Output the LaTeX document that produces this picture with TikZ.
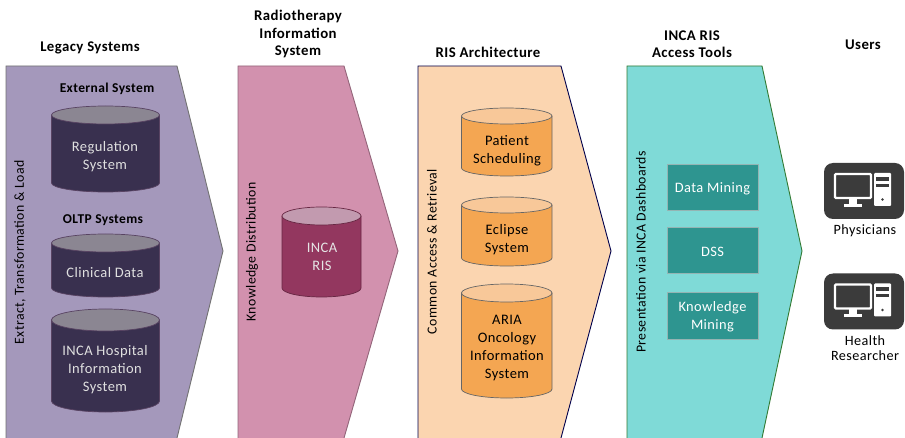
\documentclass[tikz,border=0pt]{standalone}
\usepackage{fontspec}
\setmainfont[LetterSpace=3]{Carlito}
\definecolor{pur}{HTML}{A498BB}
\definecolor{pink}{HTML}{D291AE}
\definecolor{ora}{HTML}{FBD5B0}
\definecolor{teal1}{HTML}{7FDAD7}
\definecolor{cyldark}{HTML}{39304F}
\definecolor{cyldarktop}{HTML}{8B8692}
\definecolor{cylred}{HTML}{93375F}
\definecolor{cylredtop}{HTML}{C29AAF}
\definecolor{cylora}{HTML}{F4A652}
\definecolor{cylloratop}{HTML}{F8C899}
\definecolor{boxteal}{HTML}{2E9590}
\definecolor{icon}{HTML}{3B3B3B}
\tikzset{
 x=1pt,y=-1pt,
 panel/.style={line width=0.9pt},
 head/.style={font=\fontsize{14.8}{17.5}\selectfont\bfseries,align=center,text=black,inner sep=0pt},
 sub/.style={font=\fontsize{13.5}{15}\selectfont\bfseries,align=center,inner sep=0pt},
 side/.style={font=\fontsize{13.8}{16}\selectfont,rotate=90,inner sep=0pt},
 body/.style={font=\fontsize{14.5}{18}\selectfont,align=center,inner sep=0pt},
 tealbox/.style={draw=teal1!60!black!60!white,fill=boxteal,line width=0.6pt,inner sep=0pt},
 tealtext/.style={text=white,font=\fontsize{14.4}{18}\selectfont,align=center,inner sep=0pt},
 userlabel/.style={font=\fontsize{14.2}{15.5}\selectfont,align=center,inner sep=0pt},
}
% #1 x-left, #2 x-right, #3 y-top, #4 y-bottom, #5 ry, #6 body, #7 top, #8 line, #9 name
\newcommand{\cylshape}[9]{%
 \pgfmathsetmacro{\cx}{(#1+#2)/2}\pgfmathsetmacro{\rx}{(#2-#1)/2}
 \draw[fill=#6,draw=#8,line width=0.7pt] (#1,#3+#5) -- (#1,#4-#5) arc[start angle=180,end angle=360,x radius=\rx pt,y radius=#5 pt] -- (#2,#3+#5);
 \draw[fill=#7,draw=#8,line width=0.7pt] (\cx,#3+#5) ellipse[x radius=\rx pt,y radius=#5 pt];
 \coordinate (#9) at (\cx,{(#3+#4)/2+#5/2});
}
\newcommand{\usericon}[3]{% x,y offset, name
 \begin{scope}[shift={(#1,#2)}]
 \fill[icon,rounded corners=9pt] (0,0) rectangle (80,56);
 \draw[white,line width=2.2pt,rounded corners=1pt] (11,11) rectangle (47,35);
 \fill[white] (25,36) rectangle (33,41);
 \fill[white] (20,41) rectangle (38,44);
 \fill[white,rounded corners=1pt] (50,10) rectangle (67,43);
 \fill[icon] (52,14) rectangle (65,18);
 \fill[icon] (52,21) rectangle (65,24);
 \fill[icon] (58.5,36.5) circle[radius=1.4pt];
 \coordinate (#3) at (40,28);
 \end{scope}
}
\begin{document}
\begin{tikzpicture}
\useasboundingbox (0,0) rectangle (905,438);
\fill[white] (0,0) rectangle (905,438);
% panels (open at bottom of picture)
\draw[panel,fill=pur,draw=black!55] (6,438) -- (6,66) -- (177,66) -- (223,251) -- (177,438);
\draw[panel,fill=pink,draw=pink!70!black] (238,438) -- (238,66) -- (344,66) -- (398,251) -- (344,438);
\draw[panel,fill=ora,draw=blue!30!black] (418,438) -- (418,66) -- (561,66) -- (611,251) -- (561,438);
\draw[panel,fill=teal1,draw=green!35!black!80] (627,438) -- (627,66) -- (762,66) -- (802,251) -- (762,438);
% headings
\node[head] (h1) at (90,47.5) {Legacy Systems};
\node[head] (h2) at (298,34) {Radiotherapy\\Information\\System};
\node[head] (h3) at (488,52.5) {RIS Architecture};
\node[head] (h4) at (692,44) {INCA RIS\\Access Tools};
\node[head] (h5) at (863,44.5) {Users};
% sub headings
\node[sub] (s1) at (107,89) {External System};
\node[sub] (s2) at (103,220) {OLTP Systems};
% side labels
\node[side] (t1) at (20,252.5) {Extract, Transformation \& Load};
\node[side] (t2) at (252,252) {Knowledge Distribution};
\node[side] (t3) at (432,251.5) {Common Access \& Retrieval};
\node[side] (t4) at (641,252) {Presentation via INCA Dashboards};
% cylinders
\cylshape{51.5}{159.5}{106}{192}{9}{cyldark}{cyldarktop}{cyldark!80!pink}{c1}
\node[body,text=white!88!black] (n1) at (105,157) {Regulation\\System};
\cylshape{51.5}{159.5}{234}{297}{9}{cyldark}{cyldarktop}{cyldark!80!pink}{c2}
\node[body,text=white!88!black] (n2) at (105,273) {Clinical Data};
\cylshape{51.5}{159.5}{309}{412}{11}{cyldark}{cyldarktop}{cyldark!80!pink}{c3}
\node[body,text=white!88!black] (n3) at (105,370) {INCA Hospital\\Information\\System};
\cylshape{282}{361}{207}{297}{9}{cylred}{cylredtop}{cylred!70!black}{c4}
\node[body,text=white!90!black] (n4) at (322,257) {INCA\\RIS};
\cylshape{461.5}{552}{108}{176}{8}{cylora}{cylloratop}{black!60}{c5}
\node[body] (n5) at (507,150.5) {Patient\\Scheduling};
\cylshape{461.5}{552}{197}{266}{8}{cylora}{cylloratop}{black!60}{c6}
\node[body] (n6) at (507,240) {Eclipse\\System};
\cylshape{461.5}{552}{284}{398}{9}{cylora}{cylloratop}{black!60}{c7}
\node[body] (n7) at (507,348) {ARIA\\Oncology\\Information\\System};
% tools
\node[tealbox,minimum width=91pt,minimum height=46pt] (b1) at (712.5,187) {};
\node[tealtext] (b1t) at ([yshift=-1.5pt]b1.center) {Data Mining};
\node[tealbox,minimum width=91pt,minimum height=46pt] (b2) at (712.5,250) {};
\node[tealtext] (b2t) at ([yshift=-1.5pt]b2.center) {DSS};
\node[tealbox,minimum width=91pt,minimum height=47pt] (b3) at (712.5,315.5) {};
\node[tealtext] (b3t) at ([yshift=-1pt]b3.center) {Knowledge\\Mining};
% users
\usericon{824}{163}{u1}
\usericon{824}{273.5}{u2}
\node[userlabel] (l1) at (865,230.5) {Physicians};
\node[userlabel] (l2) at (865,348) {Health\\Researcher};
\end{tikzpicture}
\end{document}
